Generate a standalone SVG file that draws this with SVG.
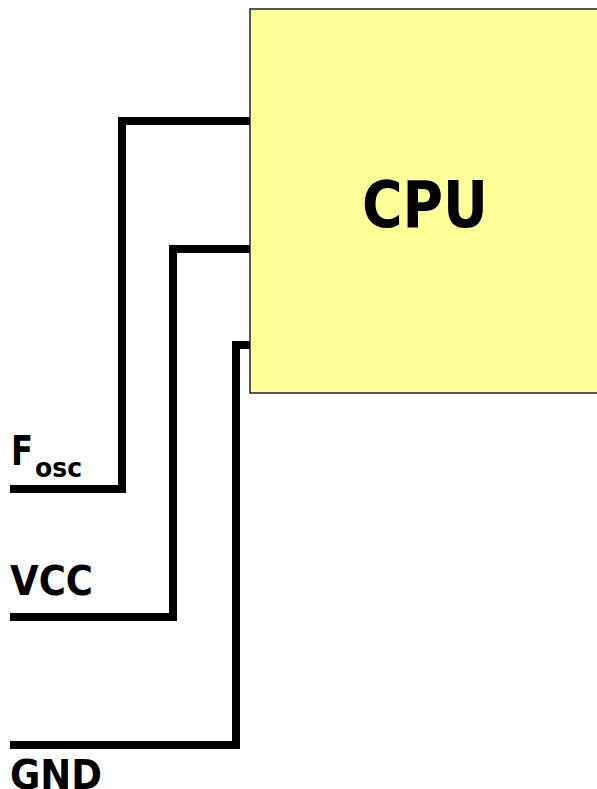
<svg xmlns="http://www.w3.org/2000/svg" width="597" height="789" viewBox="0 0 597 789">
<style>
.wire{fill:none;stroke:#000;stroke-width:8;stroke-linejoin:miter;stroke-linecap:butt}
.lbl{font-family:"DejaVu Sans",Verdana,sans-serif;font-weight:bold;fill:#000}
</style>
<rect width="597" height="789" fill="#fff"/>
<g id="cpu">
<rect x="250" y="9" width="360" height="384" fill="#ffff99" stroke="#222" stroke-width="1.5"/>
<text class="lbl" x="425" y="227" font-size="64" text-anchor="middle" textLength="126" lengthAdjust="spacingAndGlyphs">CPU</text>
</g>
<g id="connectors">
<polyline class="wire" points="10,489 122,489 122,121 250,121"/>
<polyline class="wire" points="10,617 173,617 173,249 250,249"/>
<polyline class="wire" points="10,745 236,745 236,345 250,345"/>
</g>
<g id="fosc">
<text class="lbl" x="11" y="465" font-size="41"><tspan textLength="22" lengthAdjust="spacingAndGlyphs">F</tspan></text>
<text class="lbl" x="35" y="477" font-size="27" textLength="47" lengthAdjust="spacingAndGlyphs">osc</text>
</g>
<g id="vcc">
<text class="lbl" x="10" y="595" font-size="41" textLength="83" lengthAdjust="spacingAndGlyphs">VCC</text>
</g>
<g id="gnd">
<text class="lbl" x="10" y="789" font-size="41" textLength="92" lengthAdjust="spacingAndGlyphs">GND</text>
</g>
</svg>
